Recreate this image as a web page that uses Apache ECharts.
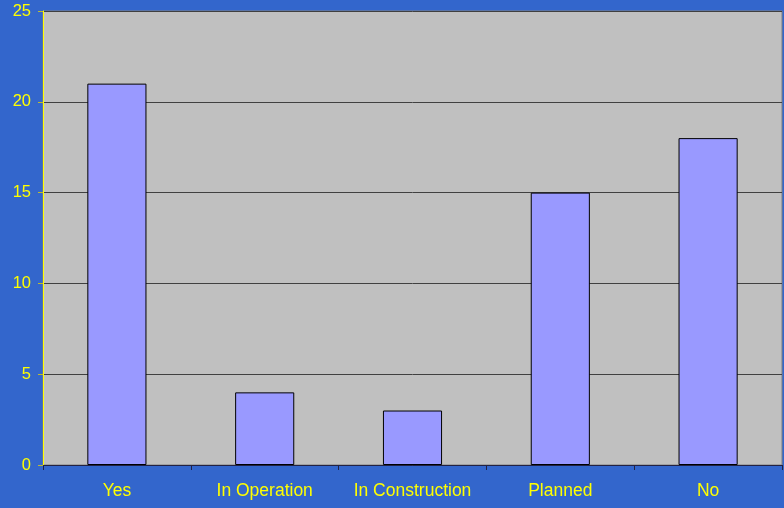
<!DOCTYPE html>
<html><head><meta charset="utf-8">
<script src="https://cdn.jsdelivr.net/npm/echarts@6/dist/echarts.min.js"></script>
<style>html,body{margin:0;padding:0;background:#3366CC;}#c{width:784px;height:508px;}</style>
</head><body><div id="c"></div>
<script>
const categories = ['Yes', 'In Operation', 'In Construction', 'Planned', 'No'];
const values = [21, 4, 3, 15, 18];
const chart = echarts.init(document.getElementById('c'));
chart.setOption({
  backgroundColor: '#3366CC',
  animation: false,
  grid: { left: 43, right: 2, top: 11, bottom: 43, show: true, backgroundColor: '#C0C0C0', borderColor: '#808080', borderWidth: 1 },
  xAxis: {
    type: 'category', data: categories,
    axisLine: { lineStyle: { color: '#222244', width: 1 } },
    axisTick: { show: true, length: 5, interval: 0, lineStyle: { color: '#222244' } },
    axisLabel: { color: '#FFFF00', fontSize: 17.5, fontFamily: 'Liberation Sans, Arial', margin: 17, interval: 0, hideOverlap: false }
  },
  yAxis: {
    type: 'value', min: 0, max: 25, interval: 5,
    axisLine: { show: true, lineStyle: { color: '#FFFF00', width: 1 } },
    axisTick: { show: true, length: 5, lineStyle: { color: '#BBBB33' } },
    axisLabel: { color: '#FFFF00', fontSize: 16.5, fontFamily: 'Liberation Sans, Arial', margin: 12 },
    splitLine: { show: true, lineStyle: { color: '#404040', width: 1 } }
  },
  series: [{
    type: 'bar', data: values, barWidth: '40%',
    itemStyle: { color: '#9999FF', borderColor: '#000000', borderWidth: 1 }
  }]
});
</script></body></html>
